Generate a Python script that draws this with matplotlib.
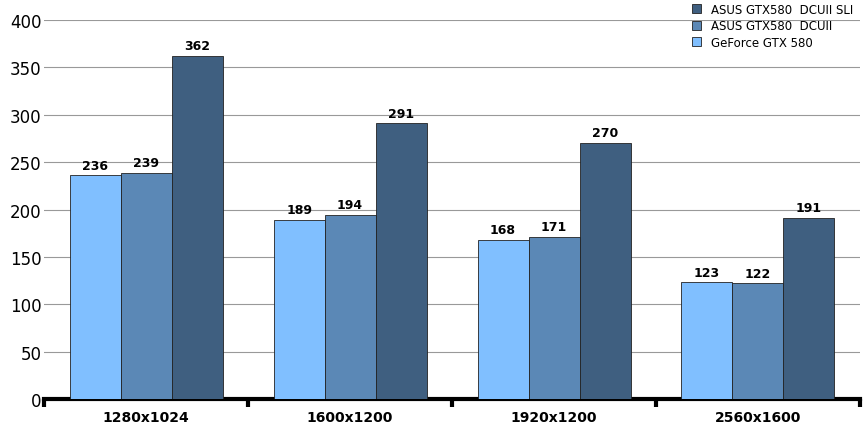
import matplotlib
matplotlib.use("Agg")
import matplotlib.pyplot as plt
import numpy as np

categories = ["1280x1024", "1600x1200", "1920x1200", "2560x1600"]
series_names = ["GeForce GTX 580", "ASUS GTX580  DCUII", "ASUS GTX580  DCUII SLI"]
gtx580 = [236, 189, 168, 123]
dcuii = [239, 194, 171, 122]
sli = [362, 291, 270, 191]
colors = ["#80BFFF", "#5B88B6", "#3F5F80"]

plt.rcParams['font.family'] = ['Verdana', 'DejaVu Sans']
fig = plt.figure(figsize=(8.66, 4.31), dpi=100)
ax = fig.add_axes([0.051, 0.072, 0.942, 0.879])
x = np.arange(len(categories))
w = 0.25
handles = []
for i, (vals, c, name) in enumerate(zip([gtx580, dcuii, sli], colors, series_names)):
    b = ax.bar(x + (i - 1) * w, vals, w, color=c, edgecolor="#222222", linewidth=0.6, label=name, zorder=3)
    handles.append(b)
    for xi, v in zip(x + (i - 1) * w, vals):
        ax.text(xi, v + 4, str(v), ha="center", va="bottom", fontsize=9, fontweight="bold", zorder=4)

ax.set_xlim(-0.5, 3.5)
ax.set_ylim(0, 400)
ax.set_yticks(range(0, 401, 50))
ax.yaxis.grid(True, color="#999999", linewidth=0.8, zorder=0)
for s in ["top", "right", "left"]:
    ax.spines[s].set_visible(False)
ax.spines["bottom"].set_linewidth(3)
ax.set_xticks(x)
ax.set_xticklabels(categories, fontsize=10, fontweight="bold")
ax.set_xticks(np.arange(-0.5, 3.6, 1), minor=True)
ax.tick_params(axis="x", which="major", length=0, pad=8)
ax.tick_params(axis="x", which="minor", length=6, width=3, direction="out")
ax.tick_params(axis="y", length=0, labelsize=12, pad=2)
leg = ax.legend(handles[::-1], series_names[::-1], loc="upper right", bbox_to_anchor=(1.0, 1.065),
                frameon=False, fontsize=8.5, handlelength=0.8, handleheight=0.8, labelspacing=0.3,
                borderaxespad=0.2)
fig.savefig("out.png", dpi=100)
